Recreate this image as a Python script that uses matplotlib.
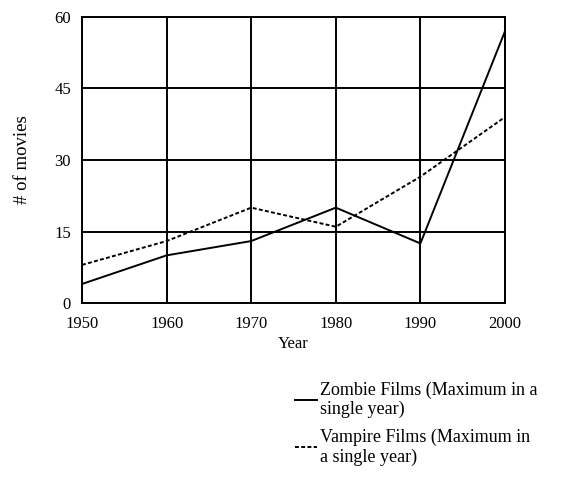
import numpy as np
import matplotlib.pyplot as plt

plt.rcParams['font.family'] = ['Liberation Serif', 'DejaVu Serif']

years = [1950, 1960, 1970, 1980, 1990, 2000]
zombie = [4, 10, 13, 20, 12.5, 57]
vampire = [8, 13, 20, 16, 26.5, 39]
yticks = [0, 15, 30, 45, 60]

fig = plt.figure(figsize=(5.63, 4.96), dpi=100)
ax = fig.add_axes([0.1457, 0.389, 0.7513, 0.577])

ax.plot(years, zombie, color='black', lw=1.4, label='Zombie Films (Maximum in a\nsingle year)')
ax.plot(years, vampire, color='black', lw=1.4, linestyle=(0, (2, 1.2)),
        label='Vampire Films (Maximum in\na single year)')

ax.set_xlim(1950, 2000)
ax.set_ylim(0, 60)
ax.set_xticks(years)
ax.set_yticks(yticks)
ax.grid(True, color='black', lw=1.4)
for s in ax.spines.values():
    s.set_linewidth(1.4)
ax.tick_params(length=0, labelsize=12)
ax.tick_params(axis='x', pad=9)
ax.tick_params(axis='y', pad=8)
ax.set_xlabel('Year', fontsize=12, labelpad=3)
ax.set_ylabel('# of movies', fontsize=13.5, labelpad=17)

fig.legend(loc='upper left', bbox_to_anchor=(0.512, 0.246), frameon=False,
           fontsize=13, handlelength=1.2, handletextpad=0.15, labelspacing=0.55,
           borderaxespad=0)

fig.savefig('out.png', dpi=100)
